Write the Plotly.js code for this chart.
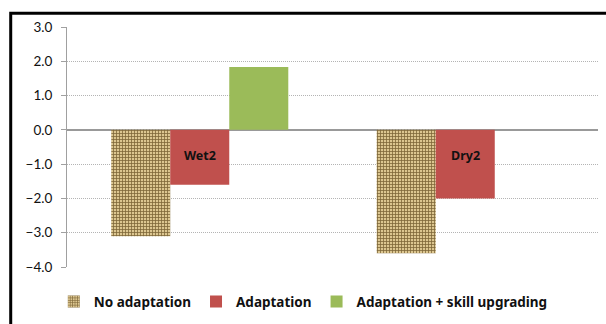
<!DOCTYPE html>
<html>
<head>
<meta charset="utf-8">
<script src="https://cdn.plot.ly/plotly-3.0.1.min.js"></script>
<style>
  html, body { margin: 0; padding: 0; background: #fff; }
  #chart { width: 606px; height: 324px; }
</style>
</head>
<body>
<div id="chart"></div>
<script>
// Scenario groups along the category axis
const scenarios = ['Wet2', 'Dry2'];

// Change under each strategy, per scenario
const noAdaptation = [-3.1, -3.6];
const adaptation = [-1.6, -2.0];
const adaptationSkill = [1.83, null];

const seriesNames = ['No adaptation', 'Adaptation', 'Adaptation + skill upgrading'];
const yTicks = [3, 2, 1, 0, -1, -2, -3, -4];

const font = 'Lato, "Open Sans", sans-serif';
const boldFont = '"Noto Sans", "Open Sans", sans-serif';

const traces = [
  {
    type: 'bar', name: seriesNames[0], x: scenarios, y: noAdaptation,
    marker: {
      color: '#c4a66c',
      pattern: { shape: '+', bgcolor: '#dcc690', fgcolor: '#7e6638', size: 3, solidity: 0.45, fillmode: 'replace' },
      line: { width: 0 }
    },
    hoverinfo: 'y+name'
  },
  {
    type: 'bar', name: seriesNames[1], x: scenarios, y: adaptation,
    marker: { color: '#c0504d', line: { width: 0 } },
    hoverinfo: 'y+name'
  },
  {
    type: 'bar', name: seriesNames[2], x: scenarios, y: adaptationSkill,
    marker: { color: '#9bbb59', line: { width: 0 } },
    hoverinfo: 'y+name'
  }
];

// Scenario names written inside the middle bar of each group
const labels = scenarios.map(s => ({
  x: s, y: -0.75, xref: 'x', yref: 'y', text: s,
  showarrow: false, font: { family: boldFont, size: 12.5, color: '#111', weight: 'bold' }
}));

const layout = {
  width: 606, height: 324,
  margin: { l: 67, r: 8, t: 26.5, b: 55.5 },
  paper_bgcolor: '#fff', plot_bgcolor: '#fff',
  barmode: 'group', bargap: 0.333, bargroupgap: 0,
  showlegend: true,
  legend: {
    orientation: 'h', x: 0.445, xanchor: 'center', y: -0.14, yanchor: 'middle',
    font: { family: boldFont, size: 13.5, color: '#111', weight: 'bold' },
    itemwidth: 30, tracegroupgap: 0
  },
  xaxis: {
    showticklabels: false, showgrid: false, zeroline: false, showline: false, ticks: ''
  },
  yaxis: {
    range: [-4, 3], tickvals: yTicks, tickformat: '.1f',
    tickfont: { family: font, size: 13.5, color: '#111' },
    showgrid: true, gridcolor: '#b4b4b4', griddash: '1px,1px', gridwidth: 1,
    zeroline: true, zerolinecolor: '#999', zerolinewidth: 2,
    showline: true, linecolor: '#a0a0a0', linewidth: 1,
    ticks: 'outside', ticklen: 5, tickcolor: '#a0a0a0', ticklabelstandoff: 6
  },
  annotations: labels,
  shapes: [
    {
      type: 'rect', xref: 'paper', yref: 'paper',
      x0: -0.106, x1: 1.1, y0: -0.4, y1: 1.057,
      line: { color: '#000', width: 3 }, layer: 'above'
    }
  ]
};

Plotly.newPlot('chart', traces, layout, { displayModeBar: false, staticPlot: true });
</script>
</body>
</html>
